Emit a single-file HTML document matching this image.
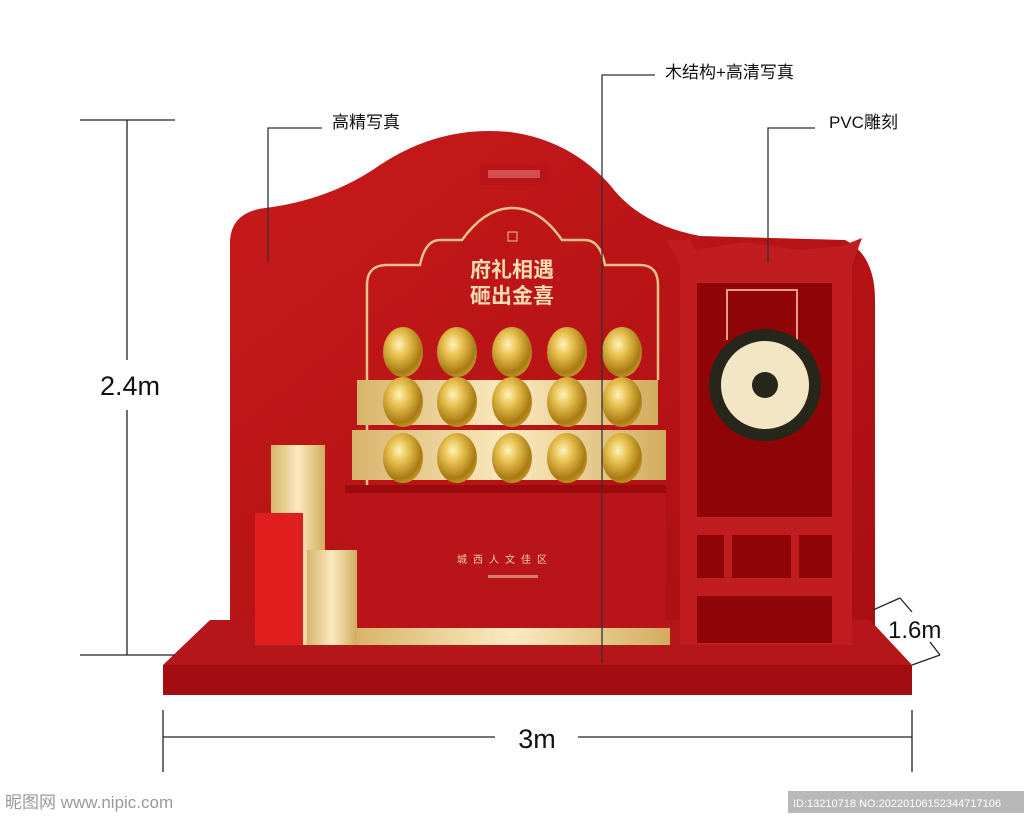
<!DOCTYPE html>
<html><head><meta charset="utf-8"><style>
html,body{margin:0;padding:0;background:#fff;}
svg{display:block;font-family:"Liberation Sans","Noto Sans CJK SC",sans-serif;}
</style></head><body>
<svg width="1024" height="819" viewBox="0 0 1024 819" xmlns="http://www.w3.org/2000/svg">
<defs>
<radialGradient id="egg" cx="0.4" cy="0.35" r="0.7">
<stop offset="0" stop-color="#fff3b8"/><stop offset="0.35" stop-color="#e6bf4e"/><stop offset="0.8" stop-color="#a87a12"/><stop offset="1" stop-color="#c99a2e"/></radialGradient>
<linearGradient id="gold" x1="0" x2="1" y1="0" y2="0"><stop offset="0" stop-color="#d7b46a"/><stop offset="0.5" stop-color="#fbeac0"/><stop offset="1" stop-color="#d2ac5e"/></linearGradient>
<linearGradient id="red" x1="0" x2="1" y1="0" y2="1"><stop offset="0" stop-color="#c81a1a"/><stop offset="1" stop-color="#a80e12"/></linearGradient>
</defs>
<!-- back board -->
<path d="M230,645 L230,240 Q232,212 265,208 Q330,200 380,165 Q440,125 510,132 Q570,140 610,185 Q640,225 700,236 L845,240 Q875,255 875,300 L875,645 Z" fill="url(#red)"/>
<!-- platform -->
<polygon points="163,665 210,620 870,620 912,665" fill="#b5161a"/>
<rect x="163" y="665" width="749" height="30" fill="#a30c10"/>
<!-- arch frame -->
<path d="M367,645 L367,285 Q367,265 387,265 L420,265 Q425,240 440,240 L462,240 Q485,208 512,208 Q540,208 562,240 L585,240 Q600,240 605,265 L640,265 Q658,265 658,285 L658,380" fill="none" stroke="#eac18a" stroke-width="2.5"/>
<rect x="508" y="232" width="9" height="9" fill="none" stroke="#eac18a" stroke-width="1"/>
<text x="512" y="277" font-size="21" font-weight="bold" fill="#f6dcb2" text-anchor="middle">府礼相遇</text>
<text x="512" y="303" font-size="21" font-weight="bold" fill="#f6dcb2" text-anchor="middle">砸出金喜</text>
<rect x="480" y="165" width="68" height="20" fill="#b8141a" opacity="0.8"/>
<rect x="488" y="170" width="52" height="8" fill="#e88" opacity="0.5"/>
<!-- steps -->
<rect x="357" y="380" width="301" height="45" fill="url(#gold)"/>
<rect x="352" y="430" width="314" height="50" fill="url(#gold)"/>
<rect x="345" y="485" width="321" height="155" fill="#b8141a"/>
<rect x="345" y="485" width="321" height="8" fill="#9c0a0e"/>
<text x="505" y="563" font-size="10" fill="#f0d0a0" text-anchor="middle" letter-spacing="6">城西人文佳区</text>
<rect x="488" y="575" width="50" height="3" fill="#e0b080" opacity="0.7"/>
<rect x="355" y="628" width="315" height="17" fill="url(#gold)"/>
<!-- eggs -->
<g fill="url(#egg)">
<ellipse cx="403" cy="352" rx="20" ry="25"/><ellipse cx="457" cy="352" rx="20" ry="25"/><ellipse cx="512" cy="352" rx="20" ry="25"/><ellipse cx="567" cy="352" rx="20" ry="25"/><ellipse cx="622" cy="352" rx="20" ry="25"/>
<ellipse cx="403" cy="402" rx="20" ry="25"/><ellipse cx="457" cy="402" rx="20" ry="25"/><ellipse cx="512" cy="402" rx="20" ry="25"/><ellipse cx="567" cy="402" rx="20" ry="25"/><ellipse cx="622" cy="402" rx="20" ry="25"/>
<ellipse cx="403" cy="458" rx="20" ry="25"/><ellipse cx="457" cy="458" rx="20" ry="25"/><ellipse cx="512" cy="458" rx="20" ry="25"/><ellipse cx="567" cy="458" rx="20" ry="25"/><ellipse cx="622" cy="458" rx="20" ry="25"/>
</g>
<!-- columns -->
<rect x="271" y="445" width="54" height="200" fill="url(#gold)"/>
<rect x="255" y="513" width="48" height="132" fill="#e01e1e"/>
<rect x="307" y="550" width="50" height="95" fill="url(#gold)"/>
<!-- gong frame -->
<path d="M667,240 L690,240 L695,250 L745,242 L800,250 L842,246 L862,238 L852,265 L852,645 L680,645 L680,265 Z" fill="#c11c20"/>
<rect x="697" y="283" width="135" height="234" fill="#8e0407"/>
<rect x="697" y="535" width="27" height="43" fill="#8e0407"/>
<rect x="732" y="535" width="59" height="43" fill="#8e0407"/>
<rect x="799" y="535" width="33" height="43" fill="#8e0407"/>
<rect x="697" y="596" width="135" height="47" fill="#8e0407"/>
<path d="M727,340 L727,290 L797,290 L797,340" fill="none" stroke="#e79a8a" stroke-width="2"/>
<circle cx="765" cy="385" r="56" fill="#26261a"/>
<circle cx="765" cy="385" r="44" fill="#f3e6c5"/>
<circle cx="765" cy="385" r="13" fill="#26261a"/>
<!-- dimension lines -->
<g stroke="#222" stroke-width="1.3" fill="none">
<line x1="80" y1="120" x2="175" y2="120"/><line x1="80" y1="655" x2="175" y2="655"/>
<line x1="127" y1="120" x2="127" y2="360"/><line x1="127" y1="410" x2="127" y2="655"/>
<line x1="163" y1="710" x2="163" y2="772"/><line x1="912" y1="710" x2="912" y2="772"/>
<line x1="163" y1="737" x2="495" y2="737"/><line x1="578" y1="737" x2="912" y2="737"/>
<line x1="873" y1="610" x2="900" y2="598"/><line x1="900" y1="598" x2="912" y2="612"/>
<line x1="912" y1="665" x2="940" y2="655"/><line x1="940" y1="655" x2="930" y2="642"/>
</g>
<g stroke="#333" stroke-width="1.3" fill="none">
<polyline points="268,262 268,128 322,128"/>
<polyline points="602,663 602,75 655,75"/>
<polyline points="768,262 768,128 815,128"/>
</g>
<text x="100" y="395" font-size="27" fill="#111">2.4m</text>
<text x="537" y="748" font-size="27" fill="#111" text-anchor="middle">3m</text>
<text x="888" y="638" font-size="24" fill="#111">1.6m</text>
<text x="332" y="128" font-size="17" fill="#111">高精写真</text>
<text x="665" y="78" font-size="17" fill="#111">木结构+高清写真</text>
<text x="829" y="128" font-size="17" fill="#111">PVC雕刻</text>
<!-- watermark -->
<text x="5" y="808" font-size="17" fill="#999">昵图网 www.nipic.com</text>
<rect x="788" y="791" width="236" height="22" fill="#888" opacity="0.6"/>
<text x="793" y="807" font-size="11" fill="#fff">ID:13210718 NO:20220106152344717106</text>
</svg>
</body></html>
